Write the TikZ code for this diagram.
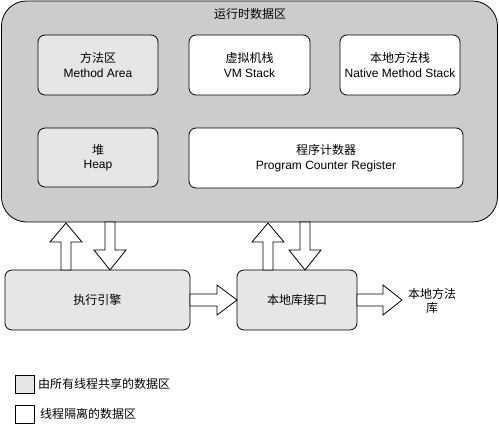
\documentclass[tikz,border=0pt]{standalone}
\usepackage{fontspec}
\setmainfont{Liberation Sans}
\newfontfamily\cjk{Noto Sans CJK SC}
\usetikzlibrary{calc}
\definecolor{outerfill}{HTML}{CCCCCC}
\definecolor{sharedfill}{HTML}{E6E6E6}
\tikzset{
  box/.style={draw=black, line width=0.8pt, rounded corners=7pt, align=center,
    font=\fontsize{12}{14.5}\selectfont, inner sep=0pt},
  shared/.style={box, fill=sharedfill},
  private/.style={box, fill=white},
  blk/.style={draw=black, line width=0.8pt, fill=white, line join=miter},
  lbl/.style={font=\fontsize{12}{14.5}\selectfont, align=center, inner sep=0pt},
}
% vertical block arrow: center x, start y, end y, head-base y
\newcommand{\vblk}[4]{\draw[blk] (#1-5,#2) -- (#1-5,#4) -- (#1-16,#4) -- (#1,#3) -- (#1+16,#4) -- (#1+5,#4) -- (#1+5,#2) -- cycle;}
% horizontal block arrow: center y, start x, end x, head-base x
\newcommand{\hblk}[4]{\draw[blk] (#2,#1-6) -- (#4,#1-6) -- (#4,#1-15) -- (#3,#1) -- (#4,#1+15) -- (#4,#1+6) -- (#2,#1+6) -- cycle;}
\begin{document}
\begin{tikzpicture}[x=1pt,y=-1pt]
\useasboundingbox (0,0) rectangle (499,431);
\node[draw=black, line width=0.8pt, fill=outerfill, rounded corners=25pt,
  minimum width=496pt, minimum height=221pt, inner sep=0pt] (rt) at (249.5,111.5) {};
\node[lbl] (rttitle) at (250,14) {\cjk 运行时数据区};
\node[shared, minimum width=120pt, minimum height=60pt] (ma) at (98,65) {{\cjk 方法区}\\Method Area};
\node[private, minimum width=121pt, minimum height=60pt] (vm) at (249.5,65) {{\cjk 虚拟机栈}\\VM Stack};
\node[private, minimum width=120pt, minimum height=60pt] (nms) at (400,65) {{\cjk 本地方法栈}\\Native Method Stack};
\node[shared, minimum width=120pt, minimum height=59pt] (heap) at (98,157.5) {{\cjk 堆}\\Heap};
\node[private, minimum width=274pt, minimum height=60pt] (pc) at (326,158) {{\cjk 程序计数器}\\Program Counter Register};
\node[shared, minimum width=185pt, minimum height=60pt] (engine) at (97.5,300) {\cjk 执行引擎};
\node[shared, minimum width=120pt, minimum height=60pt] (nif) at (297,300) {\cjk 本地库接口};
\node[lbl] (nlib) at (432,301) {\cjk 本地方法\\\cjk 库};
% connectors engine <-> runtime area
\vblk{66}{270}{223}{242}
\vblk{110}{222}{270}{250}
\vblk{268}{270}{223}{242}
\vblk{305}{222}{270}{250}
\hblk{300}{190}{237}{217}
\hblk{300}{357}{402}{383}
% legend
\node[draw=black, line width=0.8pt, fill=sharedfill, minimum width=19pt, minimum height=18pt, inner sep=0pt] (lg1) at (24.5,384) {};
\node[lbl, anchor=west] (lg1t) at (38,384) {\cjk 由所有线程共享的数据区};
\node[draw=black, line width=0.8pt, fill=white, minimum width=19pt, minimum height=18pt, inner sep=0pt] (lg2) at (24.5,414) {};
\node[lbl, anchor=west] (lg2t) at (40,414) {\cjk 线程隔离的数据区};
\end{tikzpicture}
\end{document}
